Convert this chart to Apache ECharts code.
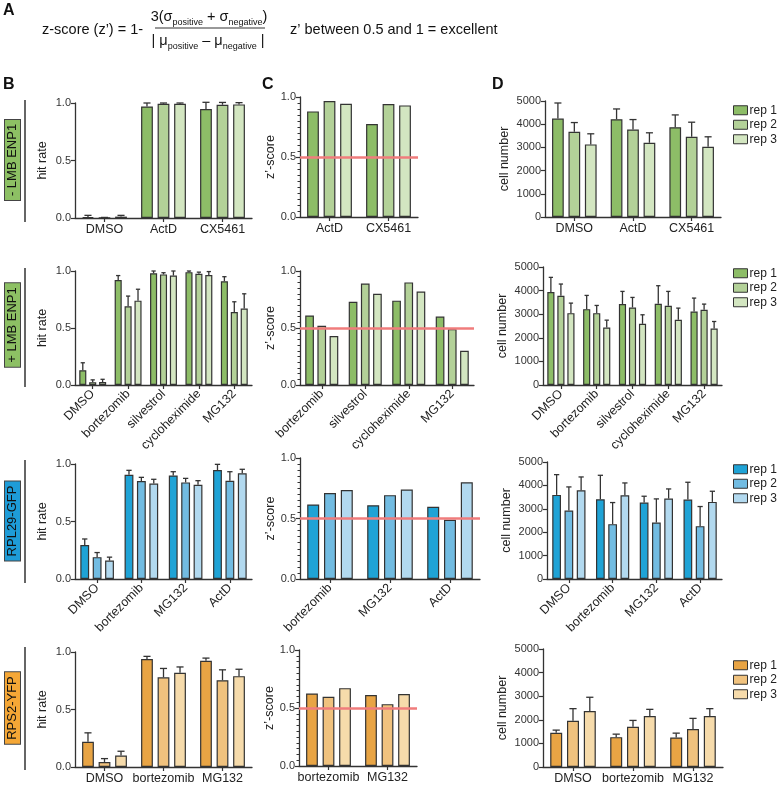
<!DOCTYPE html>
<html>
<head>
<meta charset="UTF-8">
<title>z-score screen</title>
<script src="https://cdn.jsdelivr.net/npm/echarts@6/dist/echarts.min.js"></script>
<style>
* { margin: 0; padding: 0; }
#main { width: 779px; height: 786px; }
</style>
</head>
<body>
<div id="main"></div>
<script>
// ---- data (rows: rep 1, rep 2, rep 3) ----
// row 1: - LMB ENP1
var b1Cats = ['DMSO', 'ActD', 'CX5461'];
var b1Mean = [[0.009, 0.97, 0.948], [0.002, 0.994, 0.985], [0.012, 0.994, 0.988]];
var b1Sd = [[0.014, 0.03, 0.058], [0.003, 0.006, 0.02], [0.011, 0.006, 0.015]];
var c1Cats = ['ActD', 'CX5461'];
var c1Z = [[0.88, 0.775], [0.967, 0.942], [0.944, 0.93]];
var d1Mean = [[4243, 4214, 3871], [3671, 3771, 3457], [3129, 3200, 3029]];
var d1Sd = [[671, 443, 529], [400, 429, 629], [457, 429, 428]];

// row 2: + LMB ENP1
var b2Cats = ['DMSO', 'bortezomib', 'silvestrol', 'cycloheximide', 'MG132'];
var b2Mean = [[0.13, 0.92, 0.98, 0.99, 0.91], [0.025, 0.69, 0.97, 0.975, 0.64], [0.026, 0.74, 0.96, 0.965, 0.67]];
var b2Sd = [[0.065, 0.04, 0.02, 0.01, 0.04], [0.02, 0.09, 0.015, 0.015, 0.09], [0.024, 0.1, 0.04, 0.03, 0.13]];
var c2Cats = ['bortezomib', 'silvestrol', 'cycloheximide', 'MG132'];
var c2Z = [[0.61, 0.73, 0.74, 0.60], [0.52, 0.89, 0.90, 0.49], [0.43, 0.80, 0.82, 0.30]];
var d2Mean = [[3938, 3215, 3428, 3442, 3116], [3782, 3045, 3286, 3357, 3187], [3045, 2436, 2592, 2762, 2394]];
var d2Sd = [[623, 581, 538, 765, 567], [496, 326, 425, 609, 241], [425, 312, 383, 496, 297]];

// row 3: RPL29-GFP
var b3Cats = ['DMSO', 'bortezomib', 'MG132', 'ActD'];
var b3Mean = [[0.296, 0.907, 0.90, 0.948], [0.19, 0.852, 0.84, 0.855], [0.16, 0.83, 0.82, 0.92]];
var b3Sd = [[0.052, 0.038, 0.033, 0.049], [0.04, 0.032, 0.035, 0.078], [0.03, 0.037, 0.035, 0.034]];
var c3Cats = ['bortezomib', 'MG132', 'ActD'];
var c3Z = [[0.616, 0.61, 0.597], [0.71, 0.693, 0.49], [0.735, 0.74, 0.80]];
var d3Mean = [[3594, 3409, 3267, 3395], [2926, 2344, 2415, 2259], [3793, 3580, 3438, 3295]];
var d3Sd = [[866, 1023, 270, 739], [1009, 923, 1008, 838], [568, 525, 411, 455]];

// row 4: RPS2-YFP
var b4Cats = ['DMSO', 'bortezomib', 'MG132'];
var b4Mean = [[0.219, 0.939, 0.924], [0.044, 0.78, 0.755], [0.10, 0.82, 0.79]];
var b4Sd = [[0.078, 0.023, 0.023], [0.029, 0.077, 0.09], [0.037, 0.05, 0.06]];
var c4Cats = ['bortezomib', 'MG132'];
var c4Z = [[0.625, 0.611], [0.597, 0.533], [0.671, 0.62]];
var d4Mean = [[1449, 1264, 1250], [1960, 1705, 1605], [2372, 2159, 2159]];
var d4Sd = [[114, 128, 185], [512, 269, 455], [583, 284, 313]];

var repNames = ['rep 1', 'rep 2', 'rep 3'];

// ---- styling ----
var palettes = {
	g: ['#8dbd67', '#b3d198', '#d3e6c1'],
	b: ['#1fa3d6', '#72bce2', '#b2d9ef'],
	o: ['#e8a444', '#f0c27e', '#f6dbab']
};
var FONT = 'Liberation Sans, Arial, sans-serif';
var INK = '#333';
var BAR_W = 0.2, BAR_GAP = 0.4;

var panels = [
	{kind: 'B', cats: b1Cats, mean: b1Mean, sd: b1Sd, pal: 'g', box: [75, 103, 177, 115], rot: 0},
	{kind: 'C', cats: c1Cats, mean: c1Z, pal: 'g', box: [300, 97, 118, 120], rot: 0},
	{kind: 'D', cats: b1Cats, mean: d1Mean, sd: d1Sd, pal: 'g', box: [545, 101, 176, 116], rot: 0, legendTop: 103},
	{kind: 'B', cats: b2Cats, mean: b2Mean, sd: b2Sd, pal: 'g', box: [75, 271, 177, 114], rot: 45},
	{kind: 'C', cats: c2Cats, mean: c2Z, pal: 'g', box: [300, 271, 174, 114], rot: 45},
	{kind: 'D', cats: b2Cats, mean: d2Mean, sd: d2Sd, pal: 'g', box: [543, 267, 179, 118], rot: 45, legendTop: 266},
	{kind: 'B', cats: b3Cats, mean: b3Mean, sd: b3Sd, pal: 'b', box: [75, 464, 177, 115], rot: 45},
	{kind: 'C', cats: c3Cats, mean: c3Z, pal: 'b', box: [300, 458, 180, 121], rot: 45},
	{kind: 'D', cats: b3Cats, mean: d3Mean, sd: d3Sd, pal: 'b', box: [547, 462, 175, 117], rot: 45, legendTop: 462},
	{kind: 'B', cats: b4Cats, mean: b4Mean, sd: b4Sd, pal: 'o', box: [75, 652, 177, 115], rot: 0},
	{kind: 'C', cats: c4Cats, mean: c4Z, pal: 'o', box: [299, 650, 118, 116], rot: 0},
	{kind: 'D', cats: b4Cats, mean: d4Mean, sd: d4Sd, pal: 'o', box: [543, 649, 180, 118], rot: 0, legendTop: 658}
];

function renderErr(params, api) {
	var cat = api.value(0), m = api.value(1), s = api.value(2), rep = api.value(3);
	var band = api.size([1, 0])[0];
	var bw = band * BAR_W, gap = bw * BAR_GAP;
	var p0 = api.coord([cat, m]);
	var x = p0[0] - (3 * bw + 2 * gap) / 2 + bw / 2 + rep * (bw + gap);
	var y2 = api.coord([cat, m + s])[1];
	var cap = Math.max(bw * 0.6, 4);
	var st = {stroke: INK, lineWidth: 1.3};
	return {type: 'group', children: [
		{type: 'line', shape: {x1: x, y1: p0[1], x2: x, y2: y2}, style: st},
		{type: 'line', shape: {x1: x - cap / 2, y1: y2, x2: x + cap / 2, y2: y2}, style: st}
	]};
}

var grids = [], xAxes = [], yAxes = [], series = [], legends = [];
var axisLine = {show: true, lineStyle: {color: INK, width: 1.3}};
var axisTick = {show: true, length: 4, lineStyle: {color: INK, width: 1.2}};

panels.forEach(function(p, i) {
	grids.push({left: p.box[0], top: p.box[1], width: p.box[2], height: p.box[3]});
	xAxes.push({
		type: 'category', gridIndex: i, data: p.cats,
		axisLine: axisLine,
		axisTick: {show: true, alignWithLabel: true, length: 4, lineStyle: {color: INK, width: 1.2}},
		axisLabel: {interval: 0, rotate: p.rot, fontSize: 12.5, color: '#222', margin: p.rot ? 7 : 5, fontFamily: FONT}
	});
	var y = {
		type: 'value', gridIndex: i, min: 0,
		axisLine: axisLine, axisTick: axisTick, splitLine: {show: false},
		axisLabel: {fontSize: 11, color: INK, margin: 4, fontFamily: FONT},
		nameLocation: 'middle',
		nameTextStyle: {fontSize: 12.5, color: '#222', fontFamily: FONT}
	};
	if (p.kind === 'D') {
		y.max = 5000; y.interval = 1000; y.name = 'cell number'; y.nameGap = 34;
		y.axisLabel.formatter = function(v) { return String(v); };
	} else {
		y.max = 1; y.interval = 0.5;
		y.axisLabel.formatter = function(v) { return v.toFixed(1); };
		if (p.kind === 'B') { y.name = 'hit rate'; y.nameGap = 26; }
		else {
			y.name = 'z\u2019-score'; y.nameGap = 22;
			y.minorTick = {show: true, splitNumber: 10, length: 2.5, lineStyle: {color: INK}};
		}
	}
	yAxes.push(y);

	var cols = palettes[p.pal];
	var errData = [];
	for (var r = 0; r < 3; r++) {
		var s = {
			type: 'bar', name: p.pal + (r + 1), xAxisIndex: i, yAxisIndex: i,
			data: p.mean[r], barWidth: (BAR_W * 100) + '%', barGap: (BAR_GAP * 100) + '%',
			itemStyle: {color: cols[r], borderColor: INK, borderWidth: 1.2},
			silent: true
		};
		if (p.kind === 'C' && r === 0) {
			s.markLine = {
				silent: true, symbol: ['none', 'none'], label: {show: false},
				lineStyle: {color: '#f07c7c', width: 2.5, type: 'solid'},
				data: [{yAxis: 0.5}]
			};
		}
		series.push(s);
		if (p.sd) {
			p.mean[r].forEach(function(m, c) { errData.push([c, m, p.sd[r][c], r]); });
		}
	}
	if (p.sd) {
		series.push({
			type: 'custom', xAxisIndex: i, yAxisIndex: i, renderItem: renderErr,
			data: errData, z: 5, clip: false, silent: true
		});
	}
	if (p.legendTop !== undefined) {
		legends.push({
			orient: 'vertical', left: 733, top: p.legendTop, padding: 0, selectedMode: false,
			icon: 'rect', itemWidth: 14, itemHeight: 9, itemGap: 0,
			itemStyle: {borderColor: INK, borderWidth: 1},
			data: [p.pal + '1', p.pal + '2', p.pal + '3'],
			formatter: function(n) { return repNames[+n.slice(-1) - 1]; },
			textStyle: {fontSize: 12, color: '#222', lineHeight: 14.5, fontFamily: FONT, padding: [0, 0, 0, -3]}
		});
	}
});

// side labels and header text
var sideLabels = [
	{text: '- LMB ENP1', color: '#8dc064', y1: 100, y2: 222, cy: 160},
	{text: '+ LMB ENP1', color: '#8dc064', y1: 268, y2: 387, cy: 325},
	{text: 'RPL29-GFP', color: '#1e9cd8', y1: 460, y2: 583, cy: 521},
	{text: 'RPS2-YFP', color: '#f5a736', y1: 647, y2: 770, cy: 708}
];
var graphics = [];
sideLabels.forEach(function(s) {
	graphics.push({type: 'line', shape: {x1: 25, y1: s.y1, x2: 25, y2: s.y2}, style: {stroke: INK, lineWidth: 1.5}});
	graphics.push({
		type: 'text', x: 12.5, y: s.cy, rotation: Math.PI / 2,
		style: {text: s.text, fontSize: 13, fontFamily: FONT, fill: '#111', align: 'center', verticalAlign: 'middle',
			backgroundColor: s.color, borderColor: '#444', borderWidth: 1, padding: [1, 4]}
	});
});
[['A', 3, 3], ['B', 3, 77], ['C', 262, 77], ['D', 492, 77]].forEach(function(l) {
	graphics.push({type: 'text', x: l[1], y: l[2], style: {text: l[0], fontSize: 16, fontWeight: 'bold', fontFamily: FONT, fill: '#111'}});
});
var rich = {
	n: {fontSize: 14.5, fontFamily: FONT, fill: '#111', lineHeight: 20, verticalAlign: 'middle'},
	s: {fontSize: 9, fontFamily: FONT, fill: '#111', lineHeight: 20, verticalAlign: 'bottom'}
};
graphics.push({type: 'text', x: 42, y: 30, style: {text: 'z-score (z\u2019) = 1-', fontSize: 14.5, fontFamily: FONT, fill: '#111', verticalAlign: 'middle'}});
graphics.push({type: 'text', x: 209, y: 17, style: {text: '{n|3(\u03c3}{s|positive}{n| + \u03c3}{s|negative}{n|)}', rich: rich, align: 'center', verticalAlign: 'middle'}});
graphics.push({type: 'line', shape: {x1: 155, y1: 28, x2: 265, y2: 28}, style: {stroke: INK, lineWidth: 1}});
graphics.push({type: 'text', x: 208, y: 41, style: {text: '{n|| \u03bc}{s|positive}{n| \u2013 \u03bc}{s|negative}{n| |}', rich: rich, align: 'center', verticalAlign: 'middle'}});
graphics.push({type: 'text', x: 290, y: 30, style: {text: 'z\u2019 between 0.5 and 1 = excellent', fontSize: 14.5, fontFamily: FONT, fill: '#111', verticalAlign: 'middle'}});

var chart = echarts.init(document.getElementById('main'));
chart.setOption({
	animation: false,
	backgroundColor: '#fff',
	textStyle: {fontFamily: FONT},
	grid: grids,
	xAxis: xAxes,
	yAxis: yAxes,
	legend: legends,
	series: series,
	graphic: graphics
});
</script>
</body>
</html>
